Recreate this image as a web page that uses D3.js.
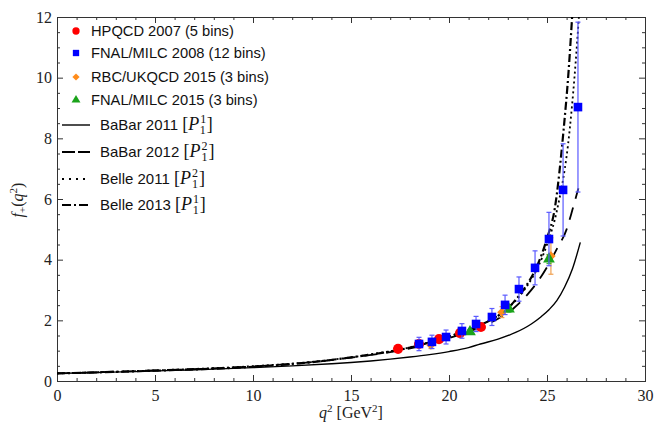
<!DOCTYPE html>
<html><head><meta charset="utf-8">
<script src="https://cdnjs.cloudflare.com/ajax/libs/d3/7.8.5/d3.min.js"></script>
<style>body{margin:0;background:#fff}svg{display:block}</style>
</head><body><svg id="c" width="669" height="429"></svg>
<script>
// ---- data ----
const hpqcdQ2 = [17.40, 18.47, 19.49, 20.56, 21.63];
const hpqcdF  = [1.06, 1.22, 1.38, 1.58, 1.78];
const hpqcdE  = [0.05, 0.06, 0.07, 0.08, 0.09];

const fnal08Q2 = [18.47, 19.13, 19.85, 20.66, 21.38, 22.19, 22.86, 23.57, 24.39, 25.10, 25.82, 26.58];
const fnal08F  = [1.22, 1.29, 1.45, 1.65, 1.88, 2.11, 2.51, 3.03, 3.73, 4.68, 6.30, 9.03];
const fnal08E  = [0.22, 0.22, 0.23, 0.24, 0.25, 0.28, 0.32, 0.40, 0.56, 0.88, 1.52, 2.80];

const rbcQ2 = [19.08, 22.70, 25.20];
const rbcF  = [1.19, 2.27, 4.12];
const rbcE  = [0.12, 0.18, 0.60];

const fnal15Q2 = [21.07, 23.06, 25.10];
const fnal15F  = [1.62, 2.37, 4.02];
const fnal15E  = [0.07, 0.10, 0.15];

const babar11Q2 = [0, 2, 4, 6, 8, 10, 12, 14, 15, 16, 17, 18, 19, 20, 21, 21.6, 22.5, 23.4, 24.2, 24.7, 25.1, 25.5, 25.9, 26.3, 26.7];
const babar11F  = [0.25, 0.28, 0.31, 0.35, 0.39, 0.44, 0.50, 0.57, 0.61, 0.66, 0.72, 0.79, 0.87, 0.97, 1.10, 1.22, 1.38, 1.60, 1.88, 2.12, 2.35, 2.65, 3.10, 3.70, 4.57];

const babar12Q2 = [0, 5, 10, 13, 15, 16.5, 17.5, 18.5, 19.5, 20.5, 21.5, 22.5, 23.3, 24, 24.5, 25, 25.5, 26, 26.3, 26.6];
const babar12F  = [0.25, 0.35, 0.48, 0.62, 0.77, 0.90, 1.01, 1.15, 1.32, 1.52, 1.75, 2.05, 2.40, 2.85, 3.25, 3.75, 4.35, 5.00, 5.65, 6.35];

const belle11Q2 = [0, 5, 10, 13, 15, 16.5, 17.5, 18.5, 19.5, 20.5, 21.5, 22.5, 23.3, 24, 24.5, 25, 25.5, 26.16, 26.4, 26.65];
const belle11F  = [0.25, 0.35, 0.49, 0.63, 0.78, 0.93, 1.04, 1.19, 1.37, 1.58, 1.83, 2.15, 2.58, 3.15, 3.70, 4.50, 5.60, 8.30, 10.0, 12.2];

const belle13Q2 = [0, 5, 10, 13, 15, 16.5, 17.5, 18.5, 19.5, 20.5, 21.5, 22.5, 23.3, 24, 24.5, 25, 25.4, 25.85, 26.1, 26.3];
const belle13F  = [0.25, 0.34, 0.47, 0.62, 0.78, 0.92, 1.03, 1.18, 1.36, 1.57, 1.82, 2.15, 2.60, 3.20, 3.80, 4.70, 5.70, 8.30, 10.2, 12.2];

const xTicks = [0, 5, 10, 15, 20, 25, 30];
const yTicks = [0, 2, 4, 6, 8, 10, 12];

// ---- layout ----
const svg = d3.select("#c");
const L = 57, R = 645, T = 17, B = 381;
const x = d3.scaleLinear().domain([0, 30]).range([L, R]);
const y = d3.scaleLinear().domain([0, 12]).range([B, T]);

svg.append("defs").append("clipPath").attr("id", "clip")
  .append("rect").attr("x", L).attr("y", T).attr("width", R - L).attr("height", B - T);

const serif = "'Liberation Serif','Times New Roman',serif";
const sans = "'Liberation Sans',Arial,Helvetica,sans-serif";

function frameAxis(axis, tr, labels) {
  const g = svg.append("g").attr("transform", tr).call(axis);
  g.select(".domain").attr("stroke", "#333").attr("stroke-width", 1);
  g.selectAll(".tick line").attr("stroke", "#333");
  g.selectAll("text").attr("font-family", serif).attr("font-size", 16).attr("fill", "#222");
  if (!labels) g.selectAll("text").remove();
  return g;
}
const xMinor = d3.range(0, 30.01, 1).filter(v => v % 5 !== 0);
const yMinor = d3.range(0, 12.01, 0.5).filter(v => v % 2 !== 0);

frameAxis(d3.axisBottom(x).tickValues(xTicks).tickSize(-6).tickPadding(9).tickFormat(d3.format("d")), `translate(0,${B})`, true);
frameAxis(d3.axisBottom(x).tickValues(xMinor).tickSize(-3).tickFormat(""), `translate(0,${B})`, false);
frameAxis(d3.axisTop(x).tickValues(xTicks).tickSize(-6), `translate(0,${T})`, false);
frameAxis(d3.axisTop(x).tickValues(xMinor).tickSize(-3), `translate(0,${T})`, false);
frameAxis(d3.axisLeft(y).tickValues(yTicks).tickSize(-6).tickPadding(5).tickFormat(d3.format("d")), `translate(${L},0)`, true);
frameAxis(d3.axisLeft(y).tickValues(yMinor).tickSize(-3).tickFormat(""), `translate(${L},0)`, false);
frameAxis(d3.axisRight(y).tickValues(yTicks).tickSize(-6), `translate(${R},0)`, false);
frameAxis(d3.axisRight(y).tickValues(yMinor).tickSize(-3), `translate(${R},0)`, false);

// ---- curves ----
const line = d3.line().x(d => x(d[0])).y(d => y(d[1])).curve(d3.curveMonotoneX);
const cg = svg.append("g").attr("clip-path", "url(#clip)");
const curves = [
  {q: babar11Q2, f: babar11F, dash: null, w: 1.4},
  {q: babar12Q2, f: babar12F, dash: "13,9", w: 1.8},
  {q: belle11Q2, f: belle11F, dash: "2,3", w: 1.8},
  {q: belle13Q2, f: belle13F, dash: "8,3,2,3", w: 2.2}
];
curves.forEach(c => {
  cg.append("path").datum(c.q.map((v, i) => [v, c.f[i]]))
    .attr("d", line).attr("fill", "none").attr("stroke", "#000")
    .attr("stroke-width", c.w).attr("stroke-dasharray", c.dash);
});

// ---- data points ----
function errBars(q, f, e, color) {
  const g = cg.append("g").attr("stroke", color).attr("stroke-width", 1.2);
  q.forEach((v, i) => {
    const xx = x(v), y1 = y(f[i] + e[i]), y2 = y(f[i] - e[i]);
    g.append("line").attr("x1", xx).attr("x2", xx).attr("y1", y1).attr("y2", y2);
    g.append("line").attr("x1", xx - 2.5).attr("x2", xx + 2.5).attr("y1", y1).attr("y2", y1);
    g.append("line").attr("x1", xx - 2.5).attr("x2", xx + 2.5).attr("y1", y2).attr("y2", y2);
  });
}
function markers(q, f, type, size, color, rot) {
  const sym = d3.symbol().type(type).size(size);
  cg.append("g").selectAll("path").data(q.map((v, i) => [v, f[i]])).join("path")
    .attr("d", sym).attr("transform", d => `translate(${x(d[0])},${y(d[1])}) rotate(${rot || 0})`)
    .attr("fill", color);
}
const cRed = "#ff0000", cBlue = "#0000ff", cOrange = "#ff8c1a", cGreen = "#1aa31a";
errBars(hpqcdQ2, hpqcdF, hpqcdE, cRed);
errBars(rbcQ2, rbcF, rbcE, "#f0a050");
errBars(fnal15Q2, fnal15F, fnal15E, "#40b040");
markers(hpqcdQ2, hpqcdF, d3.symbolCircle, 80, cRed);
markers(rbcQ2, rbcF, d3.symbolSquare, 45, cOrange, 45);
markers(fnal15Q2, fnal15F, d3.symbolTriangle, 60, cGreen);
errBars(fnal08Q2, fnal08F, fnal08E, "#5a5aff");
markers(fnal08Q2, fnal08F, d3.symbolSquare, 74, cBlue);

// ---- legend ----
const lg = svg.append("g");
const ptLeg = [
  {t: "HPQCD 2007 (5 bins)", s: d3.symbolCircle, c: cRed, sz: 42, y: 31, r: 0},
  {t: "FNAL/MILC 2008 (12 bins)", s: d3.symbolSquare, c: cBlue, sz: 40, y: 53, r: 0},
  {t: "RBC/UKQCD 2015 (3 bins)", s: d3.symbolSquare, c: cOrange, sz: 26, y: 77, r: 45},
  {t: "FNAL/MILC 2015 (3 bins)", s: d3.symbolTriangle, c: cGreen, sz: 34, y: 100, r: 0}
];
ptLeg.forEach(d => {
  lg.append("path").attr("d", d3.symbol().type(d.s).size(d.sz)()).attr("transform", `translate(76,${d.y}) rotate(${d.r})`).attr("fill", d.c);
  lg.append("text").attr("x", 91).attr("y", d.y + 5).attr("font-family", sans).attr("font-size", 14.7).attr("fill", "#111").text(d.t);
});
const lnLeg = [
  {t: "BaBar 2011", sup: "1", dash: null, w: 1.4, y: 125},
  {t: "BaBar 2012", sup: "2", dash: "13,3", w: 2, y: 152},
  {t: "Belle 2011", sup: "2", dash: "2,5", w: 2, y: 179},
  {t: "Belle 2013", sup: "1", dash: "9,3,2,3", w: 2, y: 205}
];
lnLeg.forEach(d => {
  lg.append("line").attr("x1", 62).attr("x2", 90).attr("y1", d.y).attr("y2", d.y)
    .attr("stroke", "#000").attr("stroke-width", d.w).attr("stroke-dasharray", d.dash);
  const t = lg.append("text").attr("x", 100).attr("y", d.y + 5).attr("font-family", sans).attr("font-size", 15).attr("fill", "#111");
  t.append("tspan").text(d.t + " ");
  t.append("tspan").attr("font-family", serif).attr("font-size", 18).text("[");
  t.append("tspan").attr("font-family", serif).attr("font-style", "italic").attr("font-size", 18).text("P");
  t.append("tspan").attr("font-family", serif).attr("font-size", 12).attr("dx", 1).attr("dy", -7).text(d.sup);
  t.append("tspan").attr("font-family", serif).attr("font-size", 12).attr("dx", -6).attr("dy", 11).text("1");
  t.append("tspan").attr("font-family", serif).attr("font-size", 18).attr("dx", 1).attr("dy", -4).text("]");
});

// ---- axis titles ----
const xt = svg.append("text").attr("x", 351).attr("y", 418).attr("text-anchor", "middle")
  .attr("font-family", serif).attr("font-size", 16).attr("fill", "#222");
xt.append("tspan").attr("font-style", "italic").text("q");
xt.append("tspan").attr("font-size", 11).attr("dy", -6).text("2");
xt.append("tspan").attr("dy", 6).text(" [GeV");
xt.append("tspan").attr("font-size", 11).attr("dy", -6).text("2");
xt.append("tspan").attr("dy", 6).text("]");

const yt = svg.append("text").attr("transform", "translate(23,200) rotate(-90)").attr("text-anchor", "middle")
  .attr("font-family", serif).attr("font-size", 16).attr("fill", "#222");
yt.append("tspan").attr("font-style", "italic").text("f");
yt.append("tspan").attr("font-size", 11).attr("dy", 3).text("+");
yt.append("tspan").attr("dy", -3).text("(");
yt.append("tspan").attr("font-style", "italic").text("q");
yt.append("tspan").attr("font-size", 11).attr("dy", -6).text("2");
yt.append("tspan").attr("dy", 6).text(")");
</script></body></html>
